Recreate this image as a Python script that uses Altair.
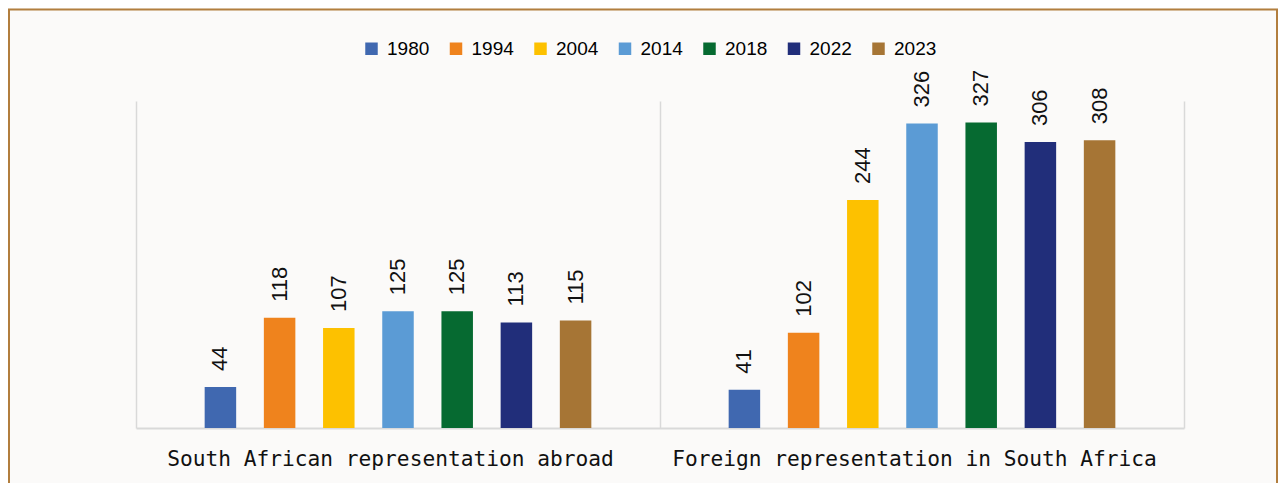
import altair as alt
import pandas as pd

groups = ["South African representation abroad", "Foreign representation in South Africa"]
years = ["1980", "1994", "2004", "2014", "2018", "2022", "2023"]
abroad = [44, 118, 107, 125, 125, 113, 115]
foreign = [41, 102, 244, 326, 327, 306, 308]
colors = ["#4068b0", "#ef831d", "#fdc100", "#5b9bd5", "#066a31", "#212e7a", "#a67535"]

rows = []
for g, vals in zip(groups, [abroad, foreign]):
    for y, v in zip(years, vals):
        rows.append({"group": g, "year": y, "value": v})
df = pd.DataFrame(rows)

base = alt.Chart(df).encode(
    x=alt.X(
        "group:N",
        sort=groups,
        scale=alt.Scale(paddingInner=0, paddingOuter=0),
        axis=alt.Axis(
            title=None,
            labelAngle=0,
            ticks=False,
            grid=True,
            tickBand="extent",
            gridColor="#d9d9d9",
            gridWidth=1.5,
            domainColor="#d9d9d9",
            domainWidth=2,
            labelFont="DejaVu Sans Mono",
            labelFontSize=21.2,
            labelColor="#111111",
            labelPadding=20,
            labelOffset=-8,
            labelLimit=0,
        ),
    ),
    xOffset=alt.XOffset("year:N", sort=years, scale=alt.Scale(paddingInner=0, paddingOuter=0.926)),
    y=alt.Y("value:Q", scale=alt.Scale(domain=[0, 350]), axis=None),
)

bars = base.mark_bar(width=31.5).encode(
    color=alt.Color(
        "year:N",
        sort=years,
        scale=alt.Scale(domain=years, range=colors),
        legend=alt.Legend(
            title=None,
            orient="none",
            direction="horizontal",
            legendX=226,
            legendY=-62,
            symbolType="square",
            symbolSize=156,
            symbolStrokeWidth=0,
            labelFont="Liberation Sans",
            labelFontSize=19,
            labelColor="#000000",
            labelOffset=6,
            columnPadding=16.5,
        ),
    )
)

labels = base.mark_text(
    angle=270, align="left", baseline="middle", dx=16,
    font="Liberation Sans", fontSize=22, color="#111111",
).encode(text=alt.Text("value:Q"))

border = alt.Chart(pd.DataFrame({"k": [0]})).mark_rect(
    fill=None, stroke="#b27e3e", strokeWidth=2
).encode(
    x=alt.value(-127), x2=alt.value(1141), y=alt.value(-91.5), y2=alt.value(520)
)

chart = alt.layer(border, bars, labels).properties(
    width=1048,
    height=327,
    padding={"left": 128, "top": 93, "right": 94, "bottom": 55},
    autosize=alt.AutoSizeParams(type="none"),
    background="#fbfaf9",
).configure_view(stroke=None)

chart.save("out.html", embed_options={"renderer": "svg", "actions": False})
